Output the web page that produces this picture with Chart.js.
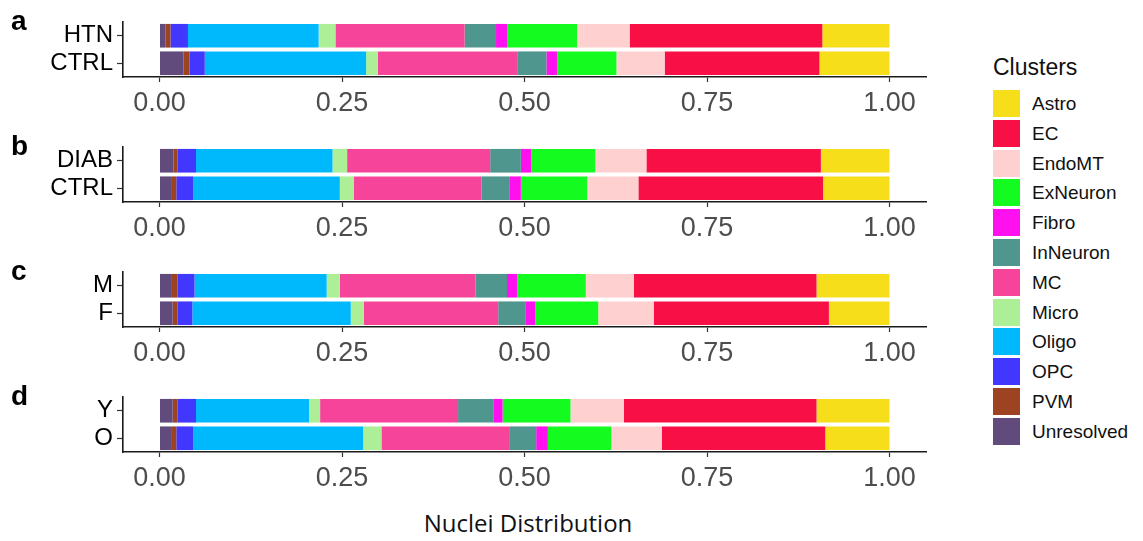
<!DOCTYPE html>
<html>
<head>
<meta charset="utf-8">
<script src="https://cdn.jsdelivr.net/npm/chart.js@4"></script>
<style>
    body { margin: 0; background: #fff; font-family: "Liberation Sans", Arial, sans-serif; }
    #wrap { position: relative; width: 1143px; height: 541px; overflow: hidden; }
    .panel { position: absolute; left: 0; width: 940px; height: 125px; }
    .letter { position: absolute; left: 11px; font-size: 28px; font-weight: bold; line-height: 1; color: #000; }
    #xtitle { position: absolute; left: 378px; width: 300px; top: 506px; text-align: center; font-family: "Open Sans", sans-serif; font-size: 24px; color: #111; }
    #legend { position: absolute; left: 993px; top: 0; }
    #legend .title { position: absolute; left: 0; top: 54px; font-size: 23px; white-space: nowrap; color: #111; }
    #legend .key { position: absolute; left: 0; width: 27px; height: 27px; }
    #legend .lab { position: absolute; left: 39px; font-size: 19px; line-height: 27px; white-space: nowrap; color: #111; }
</style>
</head>
<body>
<div id="wrap">
    <div id="xtitle">Nuclei Distribution</div>
    <div id="legend"></div>
</div>
<script>
// stacking order, left to right
const clusters = ['Unresolved', 'PVM', 'OPC', 'Oligo', 'Micro', 'MC', 'InNeuron', 'Fibro', 'ExNeuron', 'EndoMT', 'EC', 'Astro'];
const clusterColors = ['#614A7C', '#9D4321', '#4137FF', '#00B9FC', '#ADEF96', '#F5449A', '#4F968E', '#FF10EE', '#13FB1F', '#FFD0D0', '#F80F46', '#F6DE1A'];
const legendOrder = ['Astro', 'EC', 'EndoMT', 'ExNeuron', 'Fibro', 'InNeuron', 'MC', 'Micro', 'Oligo', 'OPC', 'PVM', 'Unresolved'];

// fractions per row, same order as clusters
const htn    = [0.008, 0.007, 0.024, 0.179, 0.023, 0.177, 0.043, 0.015, 0.096, 0.072, 0.264, 0.092];
const ctrlA  = [0.033, 0.008, 0.021, 0.221, 0.016, 0.191, 0.040, 0.015, 0.081, 0.066, 0.212, 0.096];
const diab   = [0.019, 0.006, 0.025, 0.187, 0.020, 0.196, 0.042, 0.014, 0.088, 0.070, 0.239, 0.094];
const ctrlB  = [0.017, 0.006, 0.023, 0.201, 0.019, 0.175, 0.039, 0.015, 0.091, 0.070, 0.253, 0.091];
const male   = [0.017, 0.008, 0.023, 0.181, 0.018, 0.186, 0.043, 0.014, 0.094, 0.066, 0.250, 0.100];
const female = [0.018, 0.007, 0.020, 0.217, 0.018, 0.184, 0.037, 0.014, 0.086, 0.076, 0.240, 0.083];
const young  = [0.018, 0.007, 0.025, 0.155, 0.015, 0.189, 0.049, 0.012, 0.093, 0.073, 0.264, 0.100];
const old    = [0.017, 0.006, 0.023, 0.233, 0.025, 0.176, 0.036, 0.016, 0.087, 0.069, 0.224, 0.088];

const xTicks = [0, 0.25, 0.5, 0.75, 1];

const panels = [
    { letter: 'a', rows: ['HTN', 'CTRL'], values: [htn, ctrlA] },
    { letter: 'b', rows: ['DIAB', 'CTRL'], values: [diab, ctrlB] },
    { letter: 'c', rows: ['M', 'F'], values: [male, female] },
    { letter: 'd', rows: ['Y', 'O'], values: [young, old] }
];

const wrap = document.getElementById('wrap');
const axisColor = '#1a1a1a';

panels.forEach((p, i) => {
    const div = document.createElement('div');
    div.className = 'panel';
    div.style.top = (125 * i) + 'px';
    const canvas = document.createElement('canvas');
    canvas.width = 940;
    canvas.height = 125;
    div.appendChild(canvas);
    wrap.appendChild(div);

    const lt = document.createElement('div');
    lt.className = 'letter';
    lt.style.top = (125 * i + 7) + 'px';
    lt.textContent = p.letter;
    wrap.appendChild(lt);

    new Chart(canvas, {
        type: 'bar',
        data: {
            labels: p.rows,
            datasets: clusters.map((c, k) => ({
                label: c,
                data: p.values.map(row => row[k]),
                backgroundColor: clusterColors[k],
                borderWidth: 0,
                categoryPercentage: 1,
                barPercentage: 0.86
            }))
        },
        options: {
            indexAxis: 'y',
            responsive: false,
            animation: false,
            maintainAspectRatio: false,
            layout: { padding: { top: 22, bottom: 8, left: 0, right: 14 } },
            plugins: { legend: { display: false }, tooltip: { enabled: false } },
            scales: {
                x: {
                    type: 'linear',
                    stacked: true,
                    min: -0.05,
                    max: 1.05,
                    afterBuildTicks: axis => { axis.ticks = xTicks.map(v => ({ value: v })); },
                    afterFit: scale => { scale.height = 40; },
                    border: { display: true, color: axisColor, width: 1.6 },
                    grid: { display: true, drawOnChartArea: false, drawTicks: true, tickLength: 5, tickColor: '#333', tickWidth: 1.2 },
                    ticks: {
                        padding: 5,
                        maxRotation: 0,
                        minRotation: 0,
                        autoSkip: false,
                        color: '#4d4d4d',
                        font: { family: '"Liberation Sans", Arial, sans-serif', size: 27 },
                        callback: v => v.toFixed(2)
                    }
                },
                y: {
                    stacked: true,
                    offset: true,
                    afterFit: scale => { scale.width = 123; },
                    border: { display: true, color: axisColor, width: 1.6 },
                    grid: { display: true, offset: false, drawOnChartArea: false, drawTicks: true, tickLength: 6, tickColor: '#333', tickWidth: 1.2 },
                    ticks: {
                        padding: 4,
                        autoSkip: false,
                        color: '#000',
                        font: { family: '"Liberation Sans", Arial, sans-serif', size: 24 }
                    }
                }
            }
        }
    });
});

// legend
const legend = document.getElementById('legend');
legend.innerHTML = '<div class="title">Clusters</div>' + legendOrder.map((name, i) => {
    const top = 90 + i * 29.8;
    const col = clusterColors[clusters.indexOf(name)];
    return `<div class="key" style="top:${top}px;background:${col}"></div>` +
           `<div class="lab" style="top:${top}px">${name}</div>`;
}).join('');
</script>
</body>
</html>
